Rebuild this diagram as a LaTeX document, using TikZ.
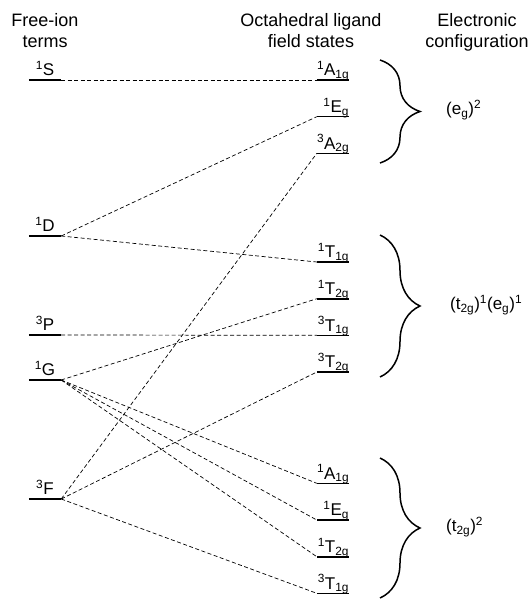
\documentclass[tikz,border=0pt]{standalone}
\usepackage{xcolor}
\usepackage{fontspec}
\setmainfont{Liberation Sans}
\usetikzlibrary{
  decorations.pathreplacing
}

\begin{document}
\begin{tikzpicture}[
  x=1pt, y=-1pt,
  level/.style={line width=1.6pt},
  lterm/.style={anchor=south, inner xsep=0pt, inner ysep=4pt, text depth=0pt,
                text width=32pt, align=center,
                font=\fontsize{17}{20}\selectfont,
                append after command={(\tikzlastnode.south west) edge[level] (\tikzlastnode.south east)}},
  rterm/.style={lterm, align=right},
  head/.style={anchor=north, align=center, inner sep=0pt,
               font=\fontsize{18}{21.5}\selectfont},
  cfg/.style={anchor=west, inner sep=0pt, font=\fontsize{17}{20}\selectfont},
  link/.style={line width=0.7pt, dash pattern=on 4pt off 2.5pt},
  brace/.style={decorate, decoration={brace, amplitude=40pt}, line width=1.5pt}
]
  \useasboundingbox (0,0) rectangle (531,599);

  % column headings
  \node[head] (free)   at (45,13)  {Free-ion\\terms};
  \node[head] (ligand) at (311,13) {Octahedral ligand\\field states};
  \node[head] (config) at (477,13) {Electronic\\configuration};

  % free-ion terms
  \node[lterm] (S) at (45,80)  {\textsuperscript{1}S};
  \node[lterm] (D) at (45,236) {\textsuperscript{1}D};
  \node[lterm] (P) at (45,335) {\textsuperscript{3}P};
  \node[lterm] (G) at (45,380) {\textsuperscript{1}G};
  \node[lterm] (F) at (45,499) {\textsuperscript{3}F};

  % ligand field states, (eg)^2
  \node[rterm] (eeA1)  at (333,80)    {\textsuperscript{1}A\textsubscript{1g}};
  \node[rterm] (eeE)   at (333,116.7) {\textsuperscript{1}E\textsubscript{g}};
  \node[rterm] (eeA2)  at (333,153.3) {\textsuperscript{3}A\textsubscript{2g}};
  % (t2g)^1(eg)^1
  \node[rterm] (teT1)  at (333,262)   {\textsuperscript{1}T\textsubscript{1g}};
  \node[rterm] (teT2)  at (333,298.7) {\textsuperscript{1}T\textsubscript{2g}};
  \node[rterm] (teTT1) at (333,335.3) {\textsuperscript{3}T\textsubscript{1g}};
  \node[rterm] (teTT2) at (333,372)   {\textsuperscript{3}T\textsubscript{2g}};
  % (t2g)^2
  \node[rterm] (ttA1)  at (333,483.3) {\textsuperscript{1}A\textsubscript{1g}};
  \node[rterm] (ttE)   at (333,520)   {\textsuperscript{1}E\textsubscript{g}};
  \node[rterm] (ttT2)  at (333,556.7) {\textsuperscript{1}T\textsubscript{2g}};
  \node[rterm] (ttT1)  at (333,593.3) {\textsuperscript{3}T\textsubscript{1g}};

  % correlations
  \draw[link] (S.south east) -- (eeA1.south west);
  \draw[link] (D.south east) -- (eeE.south west);
  \draw[link] (D.south east) -- (teT1.south west);
  \draw[link] (P.south east) -- (teTT1.south west);
  \draw[link] (G.south east) -- (teT2.south west);
  \draw[link] (G.south east) -- (ttA1.south west);
  \draw[link] (G.south east) -- (ttE.south west);
  \draw[link] (G.south east) -- (ttT2.south west);
  \draw[link] (F.south east) -- (eeA2.south west);
  \draw[link] (F.south east) -- (teTT2.south west);
  \draw[link] (F.south east) -- (ttT1.south west);

  % configurations
  \draw[brace] (380,60)  -- (380,163);
  \draw[brace] (380,235) -- (380,377);
  \draw[brace] (380,458) -- (380,598);

  \node[cfg] (eg2)  at (446,110) {(e\textsubscript{g})\textsuperscript{2}};
  \node[cfg] (t2eg) at (450,305) {(t\textsubscript{2g})\textsuperscript{1}(e\textsubscript{g})\textsuperscript{1}};
  \node[cfg] (t2g2) at (446,527) {(t\textsubscript{2g})\textsuperscript{2}};
\end{tikzpicture}
\end{document}
